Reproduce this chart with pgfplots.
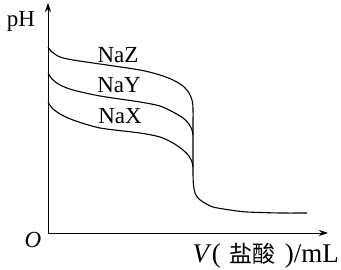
\documentclass[border=0pt]{standalone}
\usepackage{fontspec}
\setmainfont{Liberation Serif}
\newfontfamily\cjk{Noto Sans CJK SC}
\usepackage{pgfplots}
\pgfplotsset{compat=1.18}
\usetikzlibrary{arrows.meta}
\begin{document}
\begin{tikzpicture}
\useasboundingbox (-48pt,-37pt) rectangle (293pt,233pt);
\begin{axis}[
  x=1pt, y=1pt,
  anchor=origin, at={(0,0)},
  xmin=0, xmax=280, ymin=0, ymax=230,
  axis lines=left,
  axis line style={line width=0.9pt, -{Stealth[length=9pt,width=6pt]}},
  xtick=\empty, ytick=\empty,
  clip=false,
]
\addplot[black, line width=1.1pt, smooth, tension=0.45] coordinates {
(0,186) (4,181) (12,176) (25,173) (52,169) (92,163) (112,158) (125,153) (135,147) (141,140) (144,133) (145,125)
(145,100) (145,60) (145.5,48) (147,40) (150,35) (155,31) (165,26) (182,23) (199,21) (232,20) (259,20)};
\addplot[black, line width=1.1pt, smooth, tension=0.45] coordinates {
(0,160) (4,154) (12,148) (25,143) (52,137) (92,131) (112,127) (125,121) (135,115) (141,109) (144,103) (145,98)};
\addplot[black, line width=1.1pt, smooth, tension=0.45] coordinates {
(0,131) (4,125) (12,119) (25,113) (52,105) (92,100) (112,96) (125,90) (135,83) (141,77) (144,71) (145,66)};
\end{axis}
\fontsize{23}{26}\selectfont
\node at (70pt,178pt) {NaZ};
\node at (71pt,148pt) {NaY};
\node at (72pt,117pt) {NaX};
\node at (-27pt,212pt) {pH};
\node at (-15pt,-7pt) {\textit{O}};
\node[anchor=base east, inner sep=0pt] at (291pt,-30pt) {\fontsize{27}{30}\selectfont\textit{V}(\,\,{\cjk\fontsize{23}{26}\selectfont 盐酸}\,\,)/mL};
\end{tikzpicture}
\end{document}
